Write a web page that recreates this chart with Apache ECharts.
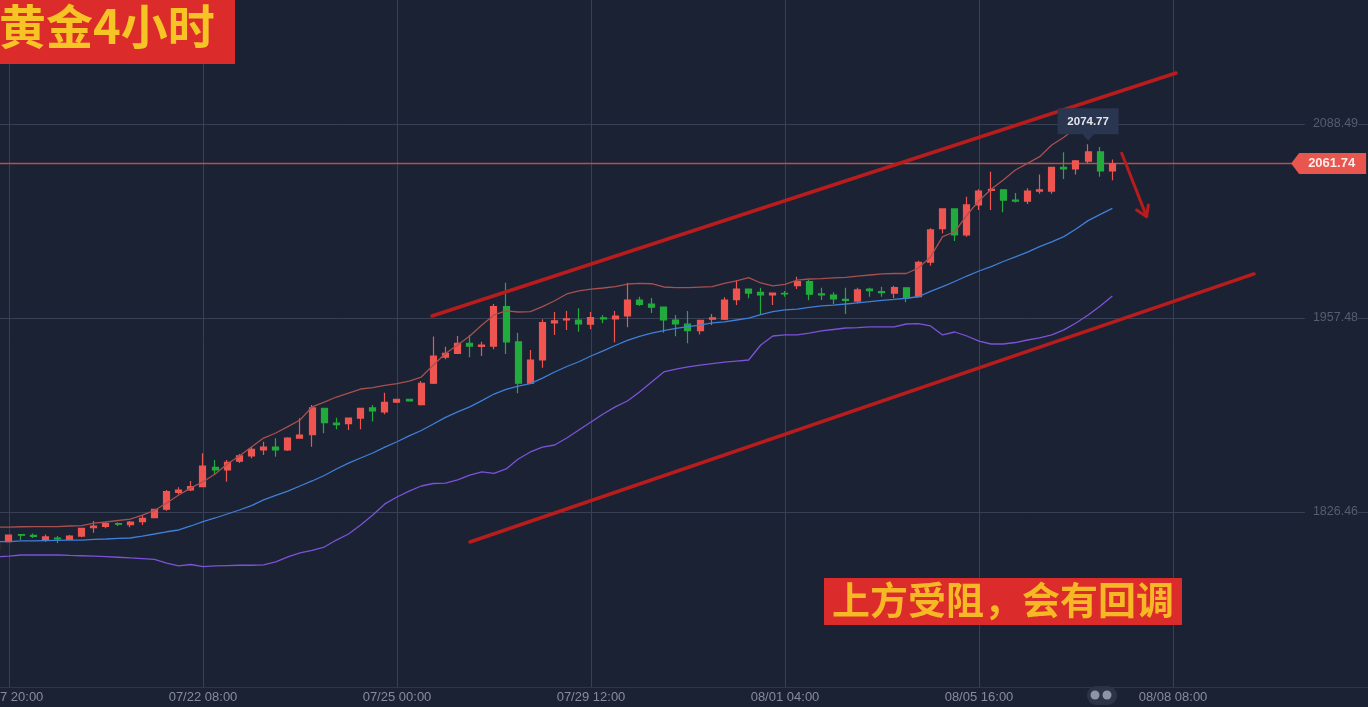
<!DOCTYPE html>
<html><head><meta charset="utf-8">
<style>html,body{margin:0;padding:0;background:#1b2233;overflow:hidden}#c{width:1368px;height:707px}</style>
<script src="https://cdn.jsdelivr.net/npm/echarts@6/dist/echarts.min.js"></script>
</head><body><div id="c"></div>
<script>
// bars start one bar before the first tick label
const tickLabels = ['07/17 20:00','07/22 08:00','07/25 00:00','07/29 12:00','08/01 04:00','08/05 16:00','08/08 08:00'];
const barsPerTick = 16;
const totalBars = 114;
const yTicks = [1826.46, 1957.48, 2088.49];
const lastPrice = 2061.74;
const maxHigh = 2074.77;

// [open, close, low, high]
const candles = [
[1800.8,1805.5,1800.1,1806.9],[1806.4,1810.9,1806.2,1811.0],[1811.2,1810.8,1807.5,1811.5],[1810.6,1809.9,1808.9,1811.9],
[1807.3,1809.6,1806.4,1811.2],[1808.9,1808.2,1805.5,1810.2],[1808.0,1810.2,1807.5,1810.9],[1810.2,1815.4,1809.4,1815.6],
[1815.8,1817.0,1812.5,1820.4],[1816.8,1818.6,1815.4,1819.9],[1818.6,1818.2,1817.0,1819.3],[1817.9,1819.7,1816.1,1820.4],
[1819.9,1822.2,1817.7,1824.4],[1822.6,1828.3,1822.2,1828.6],[1828.3,1840.2,1827.3,1841.3],[1839.6,1841.3,1838.3,1843.1],
[1841.3,1843.6,1840.6,1847.4],[1843.6,1857.5,1843.1,1866.1],[1856.6,1854.8,1851.4,1861.5],[1854.8,1860.0,1846.9,1861.5],
[1860.8,1864.3,1859.5,1865.6],[1864.3,1868.7,1862.7,1870.5],[1868.3,1870.3,1865.0,1873.9],[1870.3,1868.3,1863.8,1876.2],
[1868.3,1876.4,1867.6,1876.9],[1876.4,1878.4,1876.2,1889.7],[1878.6,1896.7,1870.5,1898.7],[1896.5,1886.8,1879.6,1896.7],
[1886.4,1885.4,1882.3,1890.1],[1886.1,1889.9,1881.8,1890.1],[1889.9,1896.5,1882.3,1896.8],[1896.7,1894.7,1887.5,1898.7],
[1894.0,1900.5,1892.4,1907.0],[1900.7,1902.6,1900.0,1902.7],[1902.6,1901.4,1901.4,1902.6],[1899.0,1913.4,1898.3,1914.9],
[1913.4,1931.8,1912.9,1944.9],[1931.1,1933.6,1929.6,1938.1],[1933.6,1940.4,1933.1,1945.3],[1940.4,1938.5,1930.9,1946.0],
[1938.3,1939.2,1931.8,1941.5],[1938.5,1965.1,1936.4,1966.9],[1965.1,1941.3,1933.1,1981.3],[1941.3,1913.4,1906.6,1947.5],
[1913.4,1929.1,1912.9,1935.9],[1929.1,1954.3,1923.9,1956.6],[1954.1,1955.6,1946.0,1961.5],[1956.1,1956.8,1949.4,1962.2],
[1956.1,1953.4,1948.2,1964.0],[1953.3,1957.8,1949.9,1961.5],[1957.6,1956.8,1953.9,1959.5],[1956.8,1958.8,1941.0,1962.2],
[1958.8,1969.6,1951.2,1981.3],[1969.6,1966.7,1965.6,1971.8],[1966.9,1964.7,1960.8,1970.9],[1964.9,1956.1,1947.5,1965.0],
[1956.1,1953.4,1945.2,1959.5],[1953.3,1948.9,1940.4,1962.2],[1948.9,1955.9,1946.3,1956.1],[1956.6,1957.6,1952.7,1960.2],
[1956.6,1969.6,1956.1,1971.4],[1969.8,1977.0,1966.2,1983.1],[1977.0,1974.3,1970.8,1977.2],[1974.8,1973.0,1959.5,1977.9],
[1973.0,1974.3,1966.2,1974.5],[1974.1,1973.7,1971.8,1975.7],[1979.3,1982.0,1977.0,1985.3],[1982.0,1973.5,1969.4,1983.1],
[1973.7,1973.0,1969.6,1977.8],[1973.0,1970.3,1966.7,1974.8],[1970.1,1969.4,1960.2,1977.8],[1968.9,1976.4,1967.4,1977.8],
[1977.0,1975.9,1971.8,1977.8],[1975.2,1974.5,1971.8,1978.6],[1974.3,1977.9,1970.8,1979.3],[1977.8,1971.1,1968.1,1978.0],
[1971.8,1995.0,1971.3,1996.1],[1995.2,2016.9,1992.7,2018.0],[2017.8,2031.1,2014.7,2031.3],[2031.1,2013.5,2009.5,2031.3],
[2013.5,2033.8,2012.4,2039.4],[2033.8,2043.2,2030.4,2044.4],[2043.7,2044.4,2030.4,2056.3],[2044.0,2037.1,2028.9,2044.4],
[2037.1,2036.4,2035.5,2041.8],[2036.4,2043.2,2034.4,2045.1],[2043.2,2044.0,2041.4,2054.3],[2043.2,2059.2,2041.4,2059.5],
[2059.2,2058.1,2051.3,2069.4],[2058.1,2063.5,2054.3,2064.2],[2063.4,2069.6,2062.0,2074.77],[2069.6,2056.8,2052.9,2073.0],
[2056.8,2061.74,2050.4,2064.5]];

const upperBand = [1816.3,1816.3,1816.5,1816.6,1816.6,1816.6,1817.0,1817.3,1819.0,1819.7,1820.7,1821.7,1824.4,1827.5,1832.5,
1837.9,1842.7,1846.9,1852.1,1858.9,1864.3,1870.3,1876.4,1879.8,1884.1,1888.6,1897.4,1900.7,1904.1,1906.8,1909.5,1910.5,1911.9,
1913.1,1914.9,1917.6,1925.7,1933.5,1939.2,1945.3,1952.7,1959.5,1962.2,1961.5,1961.8,1965.1,1969.1,1973.7,1975.7,1977.0,1977.7,
1978.6,1980.4,1980.9,1980.6,1978.4,1978.0,1978.0,1978.3,1978.6,1980.8,1982.6,1984.7,1981.1,1979.1,1980.2,1983.1,1983.8,1984.1,
1984.5,1984.9,1985.8,1986.5,1987.2,1987.5,1987.5,1991.2,1998.7,2012.4,2015.7,2027.0,2036.7,2044.4,2050.7,2057.4,2061.9,2066.4,
2074.3,2079.5,2085.8,2088.9,2090.7,2090.7];

const midBand = [1806.4,1806.5,1806.9,1806.9,1807.1,1807.3,1807.5,1807.5,1807.9,1808.2,1808.6,1808.9,1810.2,1811.6,1813.1,1814.3,
1817.0,1819.9,1822.4,1825.1,1827.8,1830.8,1834.6,1837.6,1840.6,1844.0,1847.4,1851.1,1855.5,1859.5,1862.9,1866.3,1870.3,1873.9,
1877.8,1881.5,1885.9,1890.3,1894.0,1897.4,1901.7,1906.1,1909.2,1911.5,1913.2,1916.9,1921.0,1924.7,1927.9,1931.8,1935.2,1938.9,
1942.3,1945.0,1947.3,1949.0,1950.5,1951.7,1952.7,1954.1,1954.8,1956.1,1957.3,1959.8,1961.7,1962.9,1963.5,1964.6,1965.6,1966.2,
1966.9,1967.6,1968.5,1969.3,1970.0,1970.8,1971.8,1975.4,1978.6,1982.1,1985.8,1989.2,1992.2,1995.6,1998.7,2002.0,2005.6,2008.8,
2012.4,2017.6,2023.2,2027.4,2031.5];

const lowerBand = [1796.1,1796.7,1797.4,1797.4,1797.4,1797.4,1797.1,1796.9,1796.7,1796.3,1795.9,1795.4,1795.0,1794.5,1792.0,1790.0,
1791.0,1789.5,1790.0,1790.3,1790.5,1790.5,1790.7,1792.7,1796.1,1798.8,1800.5,1802.8,1807.5,1811.6,1817.7,1824.4,1831.9,1836.6,
1840.6,1844.0,1845.7,1846.0,1848.1,1851.4,1853.5,1852.5,1855.5,1862.2,1867.0,1870.3,1871.7,1876.4,1881.8,1887.2,1892.6,1897.4,
1901.4,1907.5,1914.2,1921.0,1923.0,1924.4,1925.7,1926.7,1927.7,1928.4,1929.1,1939.2,1945.3,1946.0,1946.0,1947.3,1948.7,1949.7,
1950.7,1951.0,1951.4,1951.4,1951.4,1953.4,1953.7,1952.1,1946.0,1948.0,1945.3,1941.9,1939.9,1939.9,1940.9,1942.6,1944.0,1946.0,
1949.4,1954.1,1959.5,1965.6,1972.3];

// hand-drawn annotations: [bars after the first tick, price]
const upperChannel = [[34.89,1958.8],[96.25,2122.9]];
const lowerChannel = [[38.02,1806.2],[102.68,1987.2]];
const arrowShaft = [[91.77,2068.7],[93.83,2025.9]];
const arrowHead = [[93.0,2030.4],[93.83,2025.9],[93.97,2033.8]];
const lastPriceLine = [[-1.5,lastPrice],[106.5,lastPrice]];

const titleText = '黄金4小时';
const noteText = '上方受阻，会有回调';

const BG = '#1b2233', GRID = '#384055', RED = '#ef5550', GREEN = '#22ab3d', ANNOT = '#b81c1c';
const FONT = '"Liberation Sans", Arial, sans-serif';

const categories = Array.from({length: totalBars}, (_, i) => {
  const t = (i - 1) / barsPerTick;
  return Number.isInteger(t) && tickLabels[t] ? tickLabels[t] : 'b' + i;
});
const isTick = (i) => tickLabels.includes(categories[i]);
const maxBar = candles.findIndex(c => c[3] === maxHigh);

function annotLine(data, w, color, z) {
  return { type:'line', xAxisIndex:1, yAxisIndex:0, data, symbol:'none', silent:true, z:z||6, clip:false,
    lineStyle:{color:color||ANNOT, width:w, cap:'round'} };
}
function band(data, color) {
  return { type:'line', xAxisIndex:0, yAxisIndex:0, data, symbol:'none', silent:true, z:4,
    lineStyle:{color, width:1.3} };
}

const chart = echarts.init(document.getElementById('c'), null, {renderer:'canvas'});
chart.setOption({
  animation:false,
  backgroundColor:BG,
  grid:{left:-9.19, right:-5.06, top:0, bottom:20, containLabel:false, outerBoundsMode:'none'},
  xAxis:[{
    type:'category', data:categories, boundaryGap:true,
    axisLine:{show:true, lineStyle:{color:'#2e3649', width:1}},
    axisTick:{show:false},
    axisLabel:{interval:(i)=>isTick(i), color:'#868c9b', fontFamily:FONT, fontSize:13, margin:4, hideOverlap:false,
      formatter:(v)=>v},
    splitLine:{show:true, interval:(i)=>isTick(i), alignWithLabel:true, lineStyle:{color:GRID, width:1}}
  },{
    type:'value', min:-1.5, max:112.5, show:false
  }],
  yAxis:[{
    type:'value', position:'right', min:1708.27, max:2172.2,
    axisLine:{show:false},
    axisTick:{show:false, customValues:yTicks},
    axisLabel:{inside:true, margin:15, color:'#565d70', fontFamily:FONT, fontSize:12.5, customValues:yTicks,
      backgroundColor:BG, padding:[2,0,2,8], formatter:(v)=>v.toFixed(2)},
    splitLine:{show:true, lineStyle:{color:GRID, width:1}}
  }],
  series:[
    annotLine(lastPriceLine,1.4,'#b5514f',2),
    { type:'candlestick', xAxisIndex:0, yAxisIndex:0, data:candles, barWidth:6.5, z:3, silent:true, clip:false,
      itemStyle:{color:RED, color0:GREEN, borderColor:RED, borderColor0:GREEN, borderWidth:1.2},
      markPoint:{ silent:true, z:8, data:[
        { coord:[maxBar,maxHigh], symbol:'rect', symbolSize:[61,26], symbolOffset:[0,-23],
          itemStyle:{color:'#2a3550'},
          label:{show:true, position:'inside', offset:[0,1], formatter:maxHigh.toFixed(2), color:'#e6e8ee', fontFamily:FONT, fontSize:11.5, fontWeight:'bold'} },
        { coord:[maxBar,maxHigh], symbol:'triangle', symbolRotate:180, symbolSize:[12,7], symbolOffset:[0,-7],
          itemStyle:{color:'#2a3550'}, label:{show:false} },
        { coord:[110,lastPrice], symbol:'path://M0 10 L8 0 L75 0 L75 20 L8 20 Z', symbolKeepAspect:false, symbolSize:[75,21], symbolOffset:[-2,0],
          itemStyle:{color:'#e8564e'},
          label:{show:true, position:'inside', offset:[3,0], formatter:lastPrice.toFixed(2), color:'#fbecea', fontFamily:FONT, fontSize:13, fontWeight:'bold'} }
      ]}
    },
    band(upperBand,'#a8504e'),
    band(midBand,'#3f7fd8'),
    band(lowerBand,'#7c52d8'),
    annotLine(upperChannel,3.5),
    annotLine(lowerChannel,3.5),
    annotLine(arrowShaft,3),
    annotLine(arrowHead,3)
  ],
  graphic:[
    {type:'rect', z:20, shape:{x:0,y:0,width:235,height:64}, style:{fill:'#db2b2b'}},
    {type:'text', z:21, style:{text:titleText, x:-1, y:26, font:'bold 47px "Noto Sans CJK SC"', fill:'#f6c525', verticalAlign:'middle'}},
    {type:'rect', z:20, shape:{x:824,y:578,width:358,height:47}, style:{fill:'#db2b2b'}},
    {type:'text', z:21, style:{text:noteText, x:1003, y:600, font:'bold 38px "Noto Sans CJK SC"', fill:'#f6b825', align:'center', verticalAlign:'middle'}},
    {type:'rect', z:20, shape:{x:1087,y:686,width:30,height:19,r:9}, style:{fill:'#2b3346'}},
    {type:'circle', z:21, shape:{cx:1095,cy:695,r:4.5}, style:{fill:'#8d94a3'}},
    {type:'circle', z:21, shape:{cx:1107,cy:695,r:4.5}, style:{fill:'#8d94a3'}}
  ]
});
</script></body></html>
